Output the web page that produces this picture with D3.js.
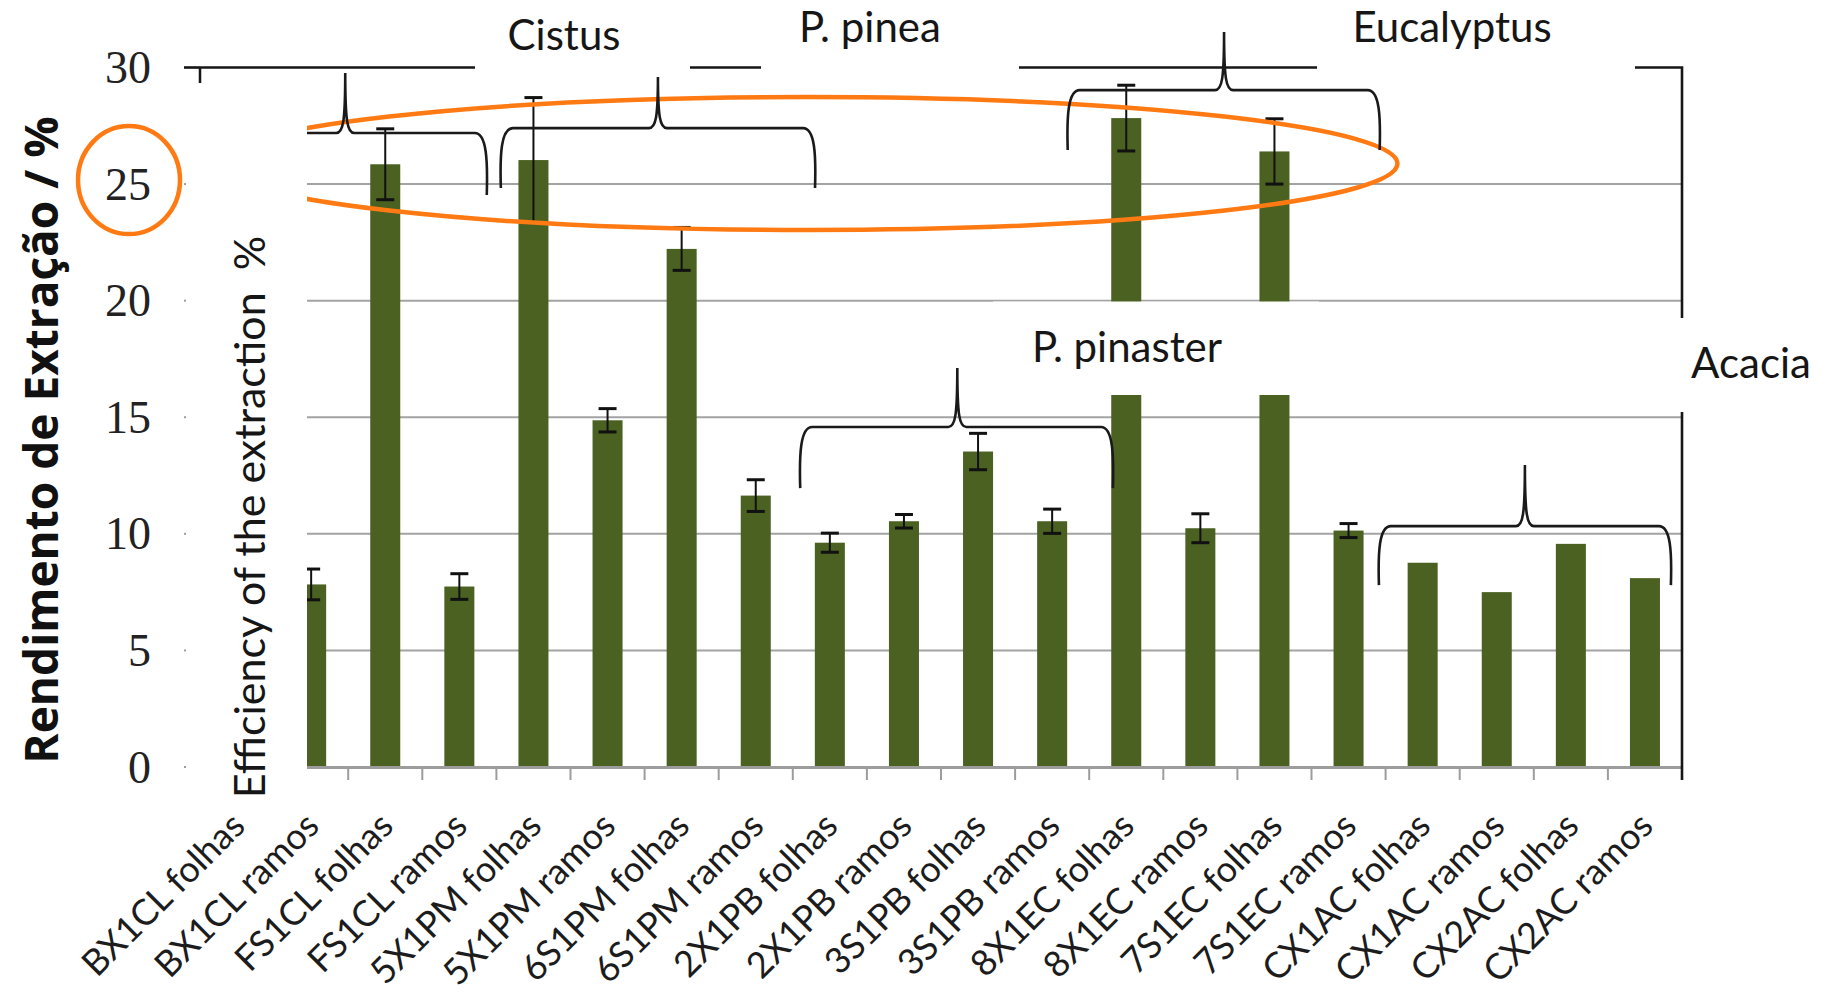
<!DOCTYPE html>
<html>
<head>
<meta charset="utf-8">
<script src="https://cdn.jsdelivr.net/npm/d3@7"></script>
<style>
  html, body { margin: 0; padding: 0; background: #ffffff; }
  svg { display: block; }
</style>
</head>
<body>
<svg id="chart" width="1826" height="994"></svg>
<script>
// ---- data ----
const categories = [
  "BX1CL folhas", "BX1CL ramos", "FS1CL folhas", "FS1CL ramos",
  "5X1PM folhas", "5X1PM ramos", "6S1PM folhas", "6S1PM ramos",
  "2X1PB folhas", "2X1PB ramos", "3S1PB folhas", "3S1PB ramos",
  "8X1EC folhas", "8X1EC ramos", "7S1EC folhas", "7S1EC ramos",
  "CX1AC folhas", "CX1AC ramos", "CX2AC folhas", "CX2AC ramos"
];
// extraction yield (%) and its standard deviation; first sample sits under the label panel
const yieldValues = [null, 7.83, 25.85, 7.74, 26.03, 14.87, 22.22, 11.64, 9.62, 10.54,
                     13.53, 10.54, 27.83, 10.24, 26.4, 10.14, 8.76, 7.5, 9.57, 8.1];
const yieldErrors = [null, 0.66, 1.52, 0.55, 2.68, 0.5, 0.92, 0.68, 0.41, 0.29,
                     0.78, 0.52, 1.41, 0.62, 1.4, 0.3, null, null, null, null];
const yTicks = [0, 5, 10, 15, 20, 25, 30];
const speciesNames = ["Cistus", "P. pinea", "P. pinaster", "Eucalyptus", "Acacia"];

// ---- layout ----
const plot = { left: 200, right: 1682, top: 67.5, bottom: 767 };
const barColor = "#4a6121";
const gridColor = "#a3a3a3";
const inkColor = "#161616";
const accent = "#ff7a12";

const svg = d3.select("#chart");

const x = d3.scaleBand()
  .domain(categories)
  .range([plot.left, plot.right])
  .paddingInner(0.595)
  .paddingOuter(0.2975);
// continuous position in category units, used for annotations
const xc = d3.scaleLinear().domain([0, categories.length]).range([plot.left, plot.right]);
const y = d3.scaleLinear().domain([0, 30]).range([plot.bottom, plot.top]);

const rows = categories.map((c, i) => ({ cat: c, v: yieldValues[i], e: yieldErrors[i] }));

// gridlines
svg.append("g")
  .selectAll("line")
  .data(yTicks.filter(t => t > 0 && t < 30))
  .join("line")
  .attr("x1", plot.left).attr("x2", plot.right)
  .attr("y1", d => y(d)).attr("y2", d => y(d))
  .attr("stroke", gridColor).attr("stroke-width", 2);

// bars
svg.append("g")
  .selectAll("rect")
  .data(rows.filter(d => d.v != null))
  .join("rect")
  .attr("x", d => x(d.cat))
  .attr("width", x.bandwidth())
  .attr("y", d => y(d.v))
  .attr("height", d => y(0) - y(d.v))
  .attr("fill", barColor);

// x axis line and category ticks
const xAxis = d3.axisBottom(x).tickSize(0).tickFormat("");
svg.append("g")
  .attr("transform", `translate(0,${plot.bottom})`)
  .call(xAxis)
  .call(g => g.select(".domain").attr("stroke", "#9c9c9c").attr("stroke-width", 3));
svg.append("g")
  .selectAll("line")
  .data(d3.range(categories.length + 1))
  .join("line")
  .attr("x1", i => xc(i)).attr("x2", i => xc(i))
  .attr("y1", plot.bottom).attr("y2", plot.bottom + 13)
  .attr("stroke", "#9c9c9c").attr("stroke-width", 2);

// y axis ticks (outside)
svg.append("g")
  .selectAll("line")
  .data(yTicks)
  .join("line")
  .attr("x1", plot.left - 16).attr("x2", plot.left)
  .attr("y1", d => y(d)).attr("y2", d => y(d))
  .attr("stroke", "#9c9c9c").attr("stroke-width", 2);
svg.append("line")
  .attr("x1", plot.left).attr("x2", plot.left)
  .attr("y1", y(30)).attr("y2", y(0))
  .attr("stroke", inkColor).attr("stroke-width", 2.5);

// plot frame: top and right
svg.append("path")
  .attr("d", `M${plot.left - 16},${y(30)} H${plot.right} V${plot.bottom + 13}`)
  .attr("fill", "none").attr("stroke", inkColor).attr("stroke-width", 2.6);

// error bars
const errRows = rows.filter(d => d.v != null && d.e != null);
const cx = d => x(d.cat) + x.bandwidth() / 2;
const eb = svg.append("g").attr("stroke", "#111").attr("fill", "none");
eb.selectAll("line.v")
  .data(errRows).join("line").attr("class", "v")
  .attr("x1", cx).attr("x2", cx)
  .attr("y1", d => y(d.v + d.e)).attr("y2", d => y(d.v - d.e))
  .attr("stroke-width", 2);
eb.selectAll("line.hi")
  .data(errRows).join("line").attr("class", "hi")
  .attr("x1", d => cx(d) - 9).attr("x2", d => cx(d) + 9)
  .attr("y1", d => y(d.v + d.e)).attr("y2", d => y(d.v + d.e))
  .attr("stroke-width", 3);
eb.selectAll("line.lo")
  .data(errRows).join("line").attr("class", "lo")
  .attr("x1", d => cx(d) - 9).attr("x2", d => cx(d) + 9)
  .attr("y1", d => y(d.v - d.e)).attr("y2", d => y(d.v - d.e))
  .attr("stroke-width", 3);

// highlight ellipse around the high-yield samples
svg.append("ellipse")
  .attr("cx", xc(8.19)).attr("cy", y(25.88))
  .attr("rx", xc(7.97) - xc(0)).attr("ry", y(0) - y(2.85))
  .attr("fill", "none").attr("stroke", accent).attr("stroke-width", 4.5);

// curly braces grouping samples by species (category units / value units)
const braces = [
  { from: 0.04, to: 3.87, peak: 1.96, level: 27.19, tip: 29.76, foot: 24.53 },
  { from: 4.06, to: 8.30, peak: 6.18, level: 27.40, tip: 29.59, foot: 24.83 },
  { from: 8.10, to: 12.32, peak: 10.22, level: 14.58, tip: 17.11, foot: 11.96 },
  { from: 11.71, to: 15.92, peak: 13.82, level: 29.03, tip: 31.52, foot: 26.46 },
  { from: 15.91, to: 19.85, peak: 17.88, level: 10.33, tip: 12.95, foot: 7.80 }
];
function bracePath(b) {
  const xL = xc(b.from), xR = xc(b.to), xC = xc(b.peak);
  const yH = y(b.level), yT = y(b.tip), yE = y(b.foot);
  const r = 12, w = 9, k = (yE - yH) * 0.45;
  return `M${xL},${yE} C${xL - 1},${yH + k} ${xL},${yH} ${xL + r},${yH}` +
         ` L${xC - w},${yH} C${xC - 2},${yH} ${xC},${yH - 12} ${xC},${yT}` +
         ` C${xC},${yH - 12} ${xC + 2},${yH} ${xC + w},${yH}` +
         ` L${xR - r},${yH} C${xR},${yH} ${xR + 1},${yH + k} ${xR},${yE}`;
}
svg.append("g")
  .selectAll("path")
  .data(braces)
  .join("path")
  .attr("d", bracePath)
  .attr("fill", "none").attr("stroke", "#1a1a1a").attr("stroke-width", 2.6);

// label panels (white boxes laid over the chart)
const panels = [
  { x: 186, y: 83, w: 121, h: 717 },
  { x: 475, y: 0, w: 215, h: 73 },
  { x: 761, y: 0, w: 258, h: 73 },
  { x: 1317, y: 0, w: 318, h: 73 },
  { x: 993, y: 301.5, w: 326, h: 93.5 },
  { x: 1640, y: 318, w: 186, h: 94 }
];
svg.append("g")
  .selectAll("rect")
  .data(panels)
  .join("rect")
  .attr("x", d => d.x).attr("y", d => d.y)
  .attr("width", d => d.w).attr("height", d => d.h)
  .attr("fill", "#ffffff");

// y tick labels
svg.append("g")
  .selectAll("text")
  .data(yTicks)
  .join("text")
  .attr("x", 151).attr("y", d => y(d))
  .attr("dy", "0.34em")
  .attr("text-anchor", "end")
  .attr("font-family", "'Liberation Serif', serif")
  .attr("font-size", 46)
  .attr("fill", "#222")
  .text(d => d);

// axis titles
svg.append("text")
  .attr("transform", "translate(58,440) rotate(-90)")
  .attr("text-anchor", "middle")
  .attr("font-family", "'Open Sans', sans-serif")
  .attr("font-weight", 700)
  .attr("font-size", 46)
  .attr("fill", "#111")
  .text("Rendimento de Extração / %");
svg.append("text")
  .attr("transform", "translate(265,517) rotate(-90)")
  .attr("text-anchor", "middle")
  .attr("font-family", "Lato, sans-serif")
  .attr("font-size", 43)
  .attr("fill", inkColor)
  .style("white-space", "pre")
  .text("Efficiency of the extraction  %");

// species labels
const speciesPos = [
  { x: 564, y: 50 }, { x: 870, y: 42 }, { x: 1127, y: 362 },
  { x: 1452, y: 42 }, { x: 1751, y: 378 }
];
svg.append("g")
  .selectAll("text")
  .data(speciesNames)
  .join("text")
  .attr("x", (d, i) => speciesPos[i].x).attr("y", (d, i) => speciesPos[i].y)
  .attr("text-anchor", "middle")
  .attr("font-family", "Lato, sans-serif")
  .attr("font-size", 42)
  .attr("fill", inkColor)
  .text(d => d);

// category labels
svg.append("g")
  .selectAll("text")
  .data(categories)
  .join("text")
  .attr("transform", d => `translate(${x(d) + x.bandwidth() / 2 + 10},828) rotate(-45)`)
  .attr("text-anchor", "end")
  .attr("font-family", "Lato, sans-serif")
  .attr("font-size", 36)
  .attr("fill", "#1c1c1c")
  .text(d => d);

// circle marking the 25 % tick
svg.append("ellipse")
  .attr("cx", 129).attr("cy", y(25) - 4)
  .attr("rx", 51).attr("ry", 54)
  .attr("fill", "none").attr("stroke", accent).attr("stroke-width", 4.5);
</script>
</body>
</html>
